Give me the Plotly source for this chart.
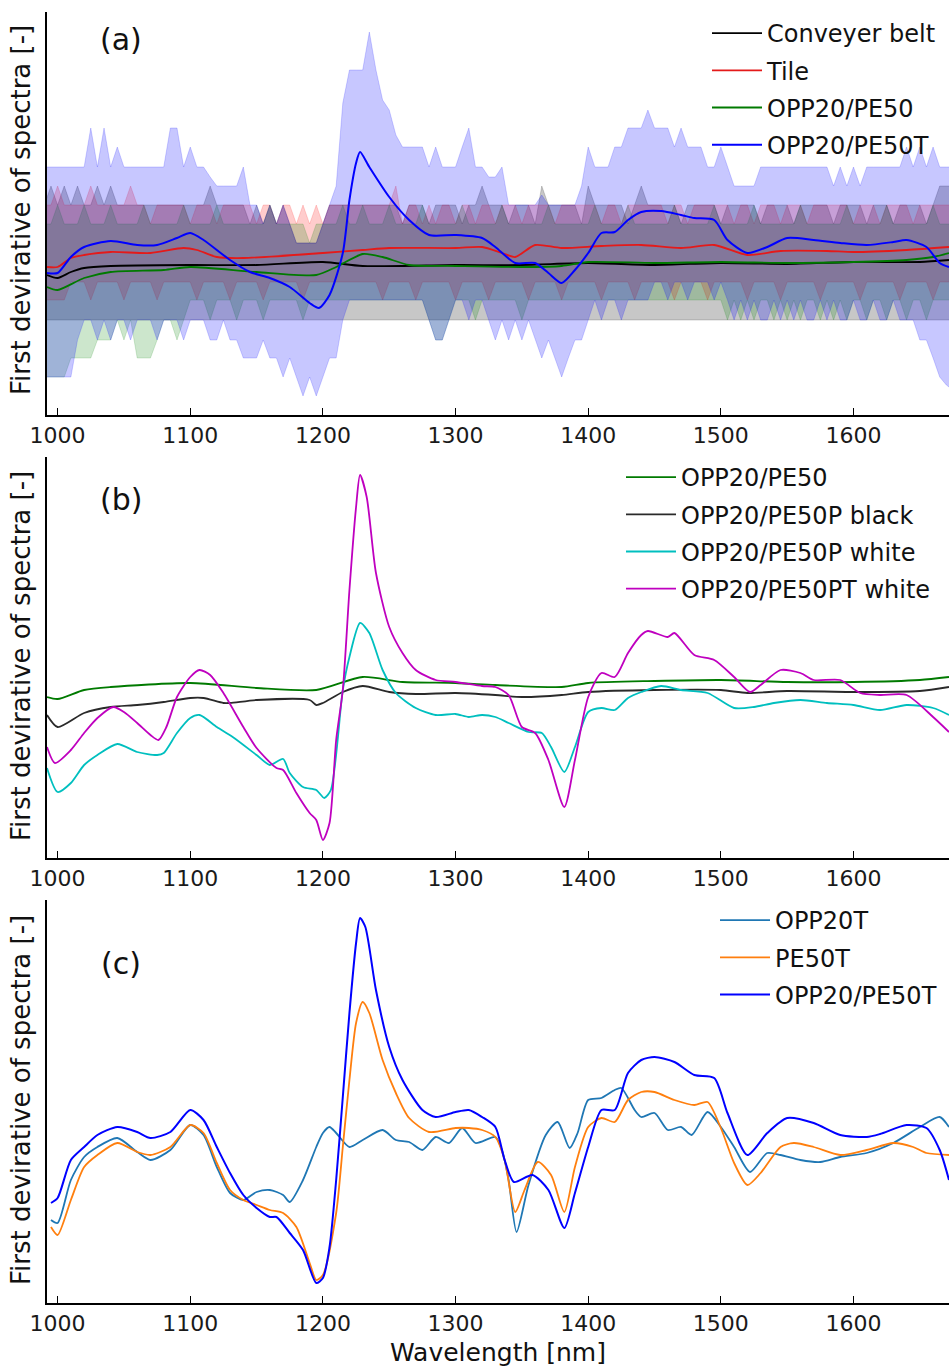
import plotly.graph_objects as go

FONT = "DejaVu Sans"

# ---------------- panel (a): min/max bands on a 5 nm grid (990..1680) ----------------
band_wl = list(range(990, 1681, 5))

belt_upper = [0.60, 0.79, 0.60, 0.79, 0.60, 0.79, 0.60, 0.60, 0.79, 0.60,
              0.79, 0.60, 0.60, 0.60, 0.60, 0.60, 0.60, 0.60, 0.60, 0.60,
              0.60, 0.60, 0.60, 0.60, 0.60, 0.79, 0.60, 0.60, 0.60, 0.60,
              0.60, 0.41, 0.60, 0.41, 0.60, 0.41, 0.60, 0.41, 0.22, 0.22,
              0.22, 0.22, 0.41, 0.60, 0.60, 0.60, 0.60, 0.60, 0.60, 0.60,
              0.60, 0.60, 0.60, 0.60, 0.41, 0.60, 0.60, 0.60, 0.41, 0.60,
              0.60, 0.60, 0.60, 0.41, 0.60, 0.60, 0.79, 0.60, 0.60, 0.60,
              0.41, 0.60, 0.60, 0.60, 0.41, 0.79, 0.60, 0.60, 0.60, 0.60,
              0.60, 0.41, 0.79, 0.60, 0.60, 0.60, 0.60, 0.60, 0.41, 0.60,
              0.79, 0.60, 0.60, 0.60, 0.60, 0.60, 0.41, 0.60, 0.60, 0.60,
              0.60, 0.60, 0.41, 0.60, 0.60, 0.60, 0.60, 0.60, 0.41, 0.60,
              0.60, 0.60, 0.60, 0.41, 0.60, 0.60, 0.60, 0.60, 0.60, 0.41,
              0.60, 0.60, 0.60, 0.60, 0.41, 0.60, 0.60, 0.60, 0.41, 0.60,
              0.60, 0.60, 0.60, 0.41, 0.60, 0.79, 0.79, 0.79, 0.79]
belt_lower = [-0.55, -0.55, -0.55, -0.55, -0.55, -0.55, -0.55, -0.55, -0.55, -0.55,
              -0.55, -0.55, -0.55, -0.55, -0.55, -0.55, -0.55, -0.55, -0.55, -0.55,
              -0.55, -0.55, -0.55, -0.55, -0.55, -0.55, -0.55, -0.55, -0.55, -0.55,
              -0.55, -0.55, -0.55, -0.55, -0.55, -0.55, -0.55, -0.55, -0.55, -0.55,
              -0.55, -0.55, -0.55, -0.55, -0.55, -0.55, -0.55, -0.55, -0.55, -0.55,
              -0.55, -0.55, -0.55, -0.55, -0.55, -0.55, -0.55, -0.55, -0.55, -0.55,
              -0.55, -0.55, -0.55, -0.55, -0.55, -0.55, -0.55, -0.55, -0.55, -0.55,
              -0.55, -0.55, -0.55, -0.55, -0.55, -0.55, -0.55, -0.55, -0.55, -0.55,
              -0.55, -0.55, -0.55, -0.55, -0.55, -0.55, -0.55, -0.55, -0.55, -0.55,
              -0.55, -0.55, -0.55, -0.55, -0.55, -0.55, -0.55, -0.55, -0.55, -0.55,
              -0.55, -0.55, -0.55, -0.55, -0.55, -0.55, -0.55, -0.55, -0.55, -0.55,
              -0.55, -0.55, -0.55, -0.55, -0.55, -0.55, -0.55, -0.55, -0.55, -0.55,
              -0.55, -0.55, -0.55, -0.55, -0.55, -0.55, -0.55, -0.55, -0.55, -0.55,
              -0.55, -0.55, -0.55, -0.55, -0.55, -0.55, -0.55, -0.55, -0.55]
tile_upper = [0.60, 0.60, 0.79, 0.60, 0.60, 0.60, 0.60, 0.79, 0.60, 0.60,
              0.60, 0.60, 0.60, 0.79, 0.60, 0.60, 0.41, 0.60, 0.60, 0.60,
              0.60, 0.60, 0.41, 0.60, 0.60, 0.60, 0.41, 0.60, 0.60, 0.60,
              0.60, 0.60, 0.41, 0.60, 0.60, 0.41, 0.60, 0.60, 0.41, 0.60,
              0.41, 0.60, 0.41, 0.60, 0.60, 0.60, 0.60, 0.60, 0.60, 0.60,
              0.60, 0.60, 0.60, 0.79, 0.41, 0.60, 0.60, 0.41, 0.60, 0.41,
              0.60, 0.60, 0.41, 0.60, 0.60, 0.41, 0.60, 0.60, 0.41, 0.60,
              0.60, 0.60, 0.41, 0.60, 0.60, 0.60, 0.60, 0.41, 0.60, 0.60,
              0.60, 0.60, 0.60, 0.60, 0.41, 0.60, 0.60, 0.41, 0.60, 0.60,
              0.60, 0.60, 0.60, 0.60, 0.41, 0.60, 0.60, 0.41, 0.60, 0.60,
              0.60, 0.60, 0.60, 0.60, 0.41, 0.60, 0.60, 0.41, 0.60, 0.60,
              0.60, 0.41, 0.60, 0.60, 0.60, 0.41, 0.60, 0.60, 0.60, 0.60,
              0.60, 0.60, 0.41, 0.60, 0.60, 0.60, 0.41, 0.60, 0.60, 0.60,
              0.60, 0.41, 0.60, 0.60, 0.60, 0.60, 0.60, 0.60, 0.60]
tile_lower = [-0.35, -0.35, -0.35, -0.35, -0.17, -0.17, -0.17, -0.35, -0.17, -0.17,
              -0.17, -0.17, -0.35, -0.17, -0.17, -0.17, -0.17, -0.35, -0.17, -0.17,
              -0.17, -0.17, -0.17, -0.35, -0.17, -0.17, -0.17, -0.17, -0.35, -0.17,
              -0.17, -0.17, -0.17, -0.35, -0.17, -0.17, -0.17, -0.17, -0.17, -0.35,
              -0.17, -0.17, -0.17, -0.17, -0.17, -0.17, -0.17, -0.17, -0.17, -0.17,
              -0.17, -0.35, -0.17, -0.17, -0.17, -0.17, -0.35, -0.17, -0.17, -0.17,
              -0.17, -0.17, -0.35, -0.17, -0.17, -0.17, -0.17, -0.35, -0.17, -0.17,
              -0.17, -0.17, -0.17, -0.35, -0.17, -0.17, -0.17, -0.17, -0.35, -0.17,
              -0.17, -0.17, -0.17, -0.17, -0.35, -0.17, -0.17, -0.17, -0.17, -0.35,
              -0.17, -0.17, -0.17, -0.17, -0.17, -0.35, -0.17, -0.17, -0.17, -0.17,
              -0.35, -0.17, -0.17, -0.17, -0.17, -0.17, -0.35, -0.17, -0.17, -0.17,
              -0.17, -0.35, -0.17, -0.17, -0.17, -0.17, -0.17, -0.35, -0.17, -0.17,
              -0.17, -0.17, -0.17, -0.35, -0.17, -0.17, -0.17, -0.17, -0.17, -0.35,
              -0.17, -0.17, -0.17, -0.17, -0.35, -0.17, -0.17, -0.17, -0.17]
opp_pe_upper = [0.41, 0.41, 0.60, 0.41, 0.41, 0.41, 0.60, 0.41, 0.41, 0.41,
                0.60, 0.41, 0.41, 0.41, 0.41, 0.60, 0.41, 0.41, 0.41, 0.41,
                0.41, 0.60, 0.41, 0.41, 0.41, 0.41, 0.60, 0.41, 0.41, 0.41,
                0.41, 0.41, 0.41, 0.41, 0.60, 0.41, 0.41, 0.41, 0.41, 0.41,
                0.22, 0.41, 0.41, 0.41, 0.41, 0.60, 0.41, 0.41, 0.60, 0.41,
                0.41, 0.41, 0.60, 0.41, 0.41, 0.41, 0.41, 0.60, 0.41, 0.41,
                0.41, 0.41, 0.41, 0.60, 0.41, 0.41, 0.41, 0.41, 0.41, 0.60,
                0.41, 0.41, 0.41, 0.41, 0.41, 0.41, 0.60, 0.41, 0.41, 0.41,
                0.41, 0.41, 0.41, 0.60, 0.41, 0.41, 0.41, 0.41, 0.60, 0.41,
                0.41, 0.41, 0.41, 0.41, 0.41, 0.60, 0.41, 0.41, 0.41, 0.41,
                0.41, 0.60, 0.41, 0.41, 0.41, 0.41, 0.41, 0.60, 0.41, 0.41,
                0.41, 0.41, 0.41, 0.41, 0.60, 0.41, 0.41, 0.41, 0.41, 0.41,
                0.41, 0.60, 0.41, 0.41, 0.41, 0.41, 0.41, 0.60, 0.41, 0.41,
                0.41, 0.41, 0.41, 0.41, 0.60, 0.41, 0.41, 0.41, 0.41]
opp_pe_lower = [-1.12, -1.12, -1.12, -1.12, -0.93, -0.93, -0.93, -0.93, -0.75, -0.75,
                -0.75, -0.55, -0.75, -0.55, -0.93, -0.93, -0.93, -0.75, -0.55, -0.55,
                -0.75, -0.55, -0.35, -0.35, -0.35, -0.55, -0.35, -0.35, -0.35, -0.55,
                -0.35, -0.35, -0.35, -0.55, -0.35, -0.35, -0.35, -0.35, -0.35, -0.55,
                -0.35, -0.35, -0.35, -0.35, -0.35, -0.35, -0.35, -0.35, -0.35, -0.35,
                -0.35, -0.35, -0.35, -0.35, -0.35, -0.35, -0.35, -0.35, -0.55, -0.75,
                -0.75, -0.55, -0.35, -0.35, -0.35, -0.55, -0.35, -0.35, -0.35, -0.35,
                -0.35, -0.35, -0.55, -0.35, -0.35, -0.35, -0.35, -0.35, -0.35, -0.35,
                -0.35, -0.35, -0.35, -0.35, -0.35, -0.35, -0.35, -0.35, -0.35, -0.35,
                -0.35, -0.35, -0.35, -0.35, -0.35, -0.35, -0.35, -0.35, -0.35, -0.35,
                -0.35, -0.35, -0.35, -0.55, -0.35, -0.55, -0.35, -0.55, -0.35, -0.35,
                -0.55, -0.35, -0.55, -0.35, -0.55, -0.35, -0.35, -0.55, -0.35, -0.55,
                -0.35, -0.55, -0.35, -0.35, -0.55, -0.35, -0.35, -0.55, -0.35, -0.35,
                -0.55, -0.35, -0.35, -0.55, -0.35, -0.35, -0.35, -0.35, -0.35]
opp_pet_upper = [0.98, 0.98, 0.98, 0.98, 0.98, 0.98, 0.98, 1.37, 0.98, 1.37,
                 0.98, 1.18, 0.98, 0.98, 0.98, 0.98, 0.98, 0.98, 0.98, 1.37,
                 1.37, 0.98, 1.18, 0.98, 0.98, 0.88, 0.79, 0.79, 0.79, 0.79,
                 0.98, 0.60, 0.60, 0.41, 0.60, 0.41, 0.60, 0.41, 0.22, 0.22,
                 0.22, 0.22, 0.41, 0.60, 0.79, 1.62, 1.95, 1.95, 1.95, 2.33,
                 1.95, 1.65, 1.55, 1.30, 1.18, 1.18, 1.18, 1.18, 0.98, 1.18,
                 0.98, 0.98, 0.98, 1.18, 1.37, 0.98, 0.98, 0.88, 0.88, 0.98,
                 0.60, 0.60, 0.60, 0.60, 0.60, 0.70, 0.60, 0.60, 0.60, 0.60,
                 0.60, 0.79, 1.18, 0.98, 0.98, 0.98, 1.18, 1.18, 1.37, 1.37,
                 1.37, 1.55, 1.37, 1.37, 1.37, 1.18, 1.37, 1.18, 1.18, 1.18,
                 0.98, 0.98, 1.18, 0.98, 0.79, 0.79, 0.79, 0.79, 0.98, 0.98,
                 0.98, 0.98, 0.98, 0.98, 0.98, 0.98, 0.98, 0.98, 0.98, 0.79,
                 0.98, 0.79, 0.98, 0.79, 0.98, 0.98, 0.98, 0.98, 0.98, 0.98,
                 1.18, 0.98, 1.18, 0.98, 1.18, 0.98, 0.98, 0.98, 0.98]
opp_pet_lower = [-1.12, -1.12, -1.12, -1.12, -1.12, -0.75, -0.55, -0.55, -0.75, -0.55,
                 -0.75, -0.55, -0.55, -0.75, -0.55, -0.55, -0.55, -0.75, -0.55, -0.55,
                 -0.55, -0.75, -0.55, -0.55, -0.55, -0.75, -0.75, -0.55, -0.75, -0.75,
                 -0.93, -0.93, -0.93, -0.75, -0.93, -0.93, -1.12, -0.93, -1.12, -1.31,
                 -1.12, -1.31, -1.12, -0.93, -0.93, -0.55, -0.35, -0.35, -0.35, -0.35,
                 -0.35, -0.35, -0.35, -0.35, -0.35, -0.35, -0.35, -0.35, -0.55, -0.75,
                 -0.75, -0.55, -0.35, -0.35, -0.55, -0.35, -0.35, -0.55, -0.75, -0.55,
                 -0.75, -0.55, -0.75, -0.55, -0.75, -0.93, -0.75, -0.93, -1.12, -0.93,
                 -0.75, -0.75, -0.55, -0.35, -0.55, -0.35, -0.35, -0.55, -0.35, -0.35,
                 -0.35, -0.35, -0.17, -0.17, -0.35, -0.17, -0.17, -0.35, -0.17, -0.17,
                 -0.17, -0.35, -0.17, -0.35, -0.55, -0.35, -0.55, -0.35, -0.55, -0.55,
                 -0.35, -0.55, -0.35, -0.55, -0.35, -0.55, -0.55, -0.35, -0.55, -0.35,
                 -0.55, -0.55, -0.35, -0.55, -0.55, -0.35, -0.55, -0.55, -0.35, -0.55,
                 -0.55, -0.55, -0.75, -0.75, -0.93, -1.12, -1.20, -1.25, -1.25]

for _arr in (belt_upper, belt_lower, tile_upper, tile_lower, opp_pe_upper, opp_pe_lower,
             opp_pet_upper, opp_pet_lower):
    assert len(_arr) == len(band_wl), len(_arr)

# ---------------- panel (a): mean spectra ----------------
a_belt_wl = [992, 1000, 1010, 1020, 1040, 1100, 1150, 1200, 1230, 1300, 1350, 1400, 1450, 1500, 1550, 1600, 1650, 1672]
a_belt = [-0.10, -0.13, -0.07, -0.03, -0.01, 0, 0, 0.03, -0.01, 0, 0, 0.02, 0, 0.02, 0.01, 0.03, 0.03, 0.05]

a_tile_wl = [992, 1000, 1010, 1020, 1040, 1070, 1095, 1105, 1120, 1140, 1200, 1230, 1250, 1300, 1320, 1335, 1345,
             1360, 1380, 1410, 1440, 1470, 1495, 1520, 1545, 1580, 1600, 1640, 1672]
a_tile = [-0.02, -0.02, 0.07, 0.10, 0.13, 0.12, 0.17, 0.15, 0.08, 0.07, 0.12, 0.15, 0.17, 0.17, 0.18, 0.12, 0.08,
          0.20, 0.17, 0.19, 0.20, 0.17, 0.20, 0.10, 0.14, 0.14, 0.13, 0.15, 0.18]

a_opp_pe_wl = [992, 1000, 1020, 1040, 1080, 1100, 1150, 1195, 1210, 1230, 1245, 1265, 1300, 1350, 1380, 1400, 1450,
               1500, 1550, 1600, 1640, 1660, 1672]
a_opp_pe = [-0.22, -0.25, -0.13, -0.07, -0.05, -0.02, -0.07, -0.10, -0.02, 0.11, 0.08, 0, -0.01, -0.02, -0.01, 0.03,
            0.02, 0.03, 0.02, 0.03, 0.05, 0.08, 0.12]

a_opp_pet_wl = [992, 1000, 1010, 1020, 1040, 1060, 1075, 1090, 1100, 1110, 1130, 1145, 1160, 1175, 1190, 1197, 1205,
                1215, 1220, 1225, 1228, 1235, 1250, 1265, 1280, 1300, 1320, 1330, 1345, 1360, 1370, 1380, 1390, 1400,
                1410, 1420, 1430, 1440, 1455, 1470, 1480, 1495, 1505, 1520, 1535, 1550, 1570, 1590, 1610, 1630, 1640,
                1655, 1665, 1672]
a_opp_pet = [-0.08, -0.08, 0.08, 0.18, 0.24, 0.20, 0.20, 0.27, 0.32, 0.25, 0.05, -0.07, -0.13, -0.22, -0.38, -0.43,
             -0.30, 0.12, 0.65, 1.02, 1.13, 0.98, 0.68, 0.45, 0.30, 0.30, 0.27, 0.18, 0.02, 0.02, -0.08, -0.18, -0.05,
             0.12, 0.32, 0.33, 0.45, 0.53, 0.54, 0.50, 0.47, 0.45, 0.25, 0.12, 0.18, 0.27, 0.25, 0.22, 0.20, 0.23,
             0.25, 0.18, 0.02, -0.02]

# ---------------- panel (b) ----------------
b_pe_wl = [992, 1000, 1020, 1040, 1100, 1150, 1195, 1230, 1260, 1300, 1330, 1380, 1400, 1450, 1500, 1550, 1600, 1650, 1672]
b_pe = [-0.07, -0.09, 0, 0.03, 0.07, 0.02, 0, 0.13, 0.08, 0.07, 0.05, 0.03, 0.07, 0.09, 0.10, 0.08, 0.08, 0.10, 0.13]

b_black_wl = [992, 1000, 1020, 1040, 1060, 1080, 1100, 1110, 1125, 1130, 1150, 1190, 1195, 1200, 1215, 1230, 1250,
              1270, 1300, 1330, 1350, 1380, 1400, 1450, 1500, 1520, 1550, 1600, 1650, 1672]
b_black = [-0.25, -0.37, -0.23, -0.17, -0.15, -0.12, -0.08, -0.08, -0.13, -0.13, -0.10, -0.10, -0.15, -0.13, -0.02,
           0.04, -0.02, -0.04, -0.03, -0.05, -0.07, -0.05, -0.02, 0, 0, -0.03, -0.01, -0.02, -0.01, 0.03]

b_white_wl = [992, 1000, 1010, 1020, 1030, 1045, 1060, 1075, 1080, 1090, 1100, 1107, 1120, 1132, 1150, 1160, 1170,
              1175, 1185, 1195, 1201, 1206, 1215, 1220, 1228, 1235, 1245, 1255, 1270, 1285, 1300, 1310, 1320, 1330,
              1340, 1355, 1365, 1372, 1382, 1390, 1400, 1410, 1420, 1430, 1440, 1455, 1470, 1490, 1510, 1525, 1540,
              1560, 1580, 1600, 1620, 1640, 1660, 1672]
b_white = [-0.78, -1.02, -0.93, -0.75, -0.65, -0.54, -0.62, -0.65, -0.63, -0.43, -0.28, -0.25, -0.37, -0.47, -0.65,
           -0.75, -0.69, -0.83, -0.97, -1.00, -1.08, -1.00, 0.00, 0.33, 0.67, 0.57, 0.20, -0.03, -0.18, -0.25, -0.24,
           -0.27, -0.25, -0.27, -0.33, -0.42, -0.43, -0.57, -0.82, -0.57, -0.22, -0.18, -0.20, -0.08, -0.02, 0.04,
           0.00, -0.03, -0.18, -0.17, -0.13, -0.10, -0.13, -0.15, -0.20, -0.15, -0.18, -0.25]

b_ptw_wl = [992, 998, 1010, 1020, 1030, 1042, 1050, 1060, 1070, 1076, 1082, 1090, 1100, 1107, 1115, 1125, 1140, 1150,
            1165, 1170, 1180, 1190, 1195, 1200, 1205, 1210, 1215, 1220, 1225, 1228, 1233, 1240, 1250, 1260, 1270,
            1285, 1300, 1320, 1330, 1340, 1350, 1360, 1370, 1382, 1390, 1400, 1410, 1420, 1430, 1440, 1445, 1460,
            1465, 1480, 1495, 1510, 1522, 1530, 1545, 1560, 1570, 1590, 1605, 1620, 1640, 1660, 1672]
b_ptw = [-0.57, -0.73, -0.60, -0.43, -0.28, -0.17, -0.22, -0.33, -0.45, -0.50, -0.37, -0.07, 0.13, 0.20, 0.15, -0.03,
         -0.37, -0.58, -0.78, -0.80, -1.03, -1.23, -1.30, -1.50, -1.33, -0.50, 0.00, 1.00, 1.83, 2.15, 1.93, 1.17,
         0.63, 0.37, 0.20, 0.10, 0.08, 0.04, 0.03, -0.05, -0.37, -0.43, -0.70, -1.17, -0.70, -0.07, 0.17, 0.13,
         0.37, 0.55, 0.59, 0.53, 0.57, 0.35, 0.30, 0.13, -0.02, 0.05, 0.20, 0.17, 0.10, 0.10, -0.03, -0.05, -0.05,
         -0.27, -0.42]

# ---------------- panel (c) ----------------
c_opp_wl = [995, 1000, 1010, 1020, 1030, 1045, 1060, 1070, 1085, 1100, 1110, 1120, 1130, 1140, 1150, 1160, 1170,
            1175, 1185, 1195, 1200, 1205, 1210, 1220, 1230, 1245, 1255, 1265, 1275, 1285, 1295, 1305, 1315, 1330,
            1335, 1340, 1346, 1355, 1368, 1377, 1386, 1392, 1400, 1410, 1420, 1425, 1435, 1440, 1450, 1460, 1470,
            1478, 1490, 1500, 1510, 1522, 1535, 1545, 1560, 1575, 1590, 1610, 1630, 1650, 1665, 1672]
c_opp = [-1.20, -1.23, -0.80, -0.57, -0.47, -0.38, -0.52, -0.60, -0.50, -0.25, -0.35, -0.67, -0.93, -1.00, -0.92,
         -0.90, -0.95, -1.02, -0.80, -0.47, -0.33, -0.27, -0.33, -0.47, -0.40, -0.30, -0.40, -0.42, -0.50, -0.37,
         -0.43, -0.28, -0.43, -0.37, -0.50, -0.80, -1.32, -0.85, -0.35, -0.22, -0.48, -0.33, 0.00, 0.02, 0.10, 0.12,
         -0.10, -0.17, -0.13, -0.30, -0.27, -0.35, -0.12, -0.27, -0.47, -0.72, -0.53, -0.55, -0.60, -0.62, -0.57,
         -0.53, -0.43, -0.27, -0.17, -0.27]

c_pe_wl = [995, 1000, 1010, 1020, 1030, 1045, 1060, 1070, 1085, 1100, 1110, 1120, 1130, 1140, 1150, 1160, 1170, 1180,
           1190, 1195, 1200, 1210, 1215, 1220, 1225, 1230, 1235, 1245, 1255, 1265, 1280, 1300, 1310, 1320, 1330, 1337,
           1345, 1352, 1362, 1372, 1382, 1390, 1400, 1410, 1420, 1430, 1440, 1450, 1465, 1480, 1490, 1500, 1510, 1520,
           1530, 1545, 1555, 1570, 1590, 1610, 1630, 1645, 1655, 1672]
c_pe = [-1.27, -1.35, -1.00, -0.67, -0.55, -0.43, -0.52, -0.55, -0.47, -0.25, -0.33, -0.63, -0.90, -1.00, -1.05,
        -1.10, -1.13, -1.27, -1.63, -1.80, -1.75, -1.13, -0.47, 0.20, 0.77, 0.98, 0.87, 0.40, 0.07, -0.18, -0.32,
        -0.28, -0.28, -0.30, -0.37, -0.60, -1.12, -0.90, -0.62, -0.75, -1.12, -0.67, -0.27, -0.18, -0.22, 0.00, 0.08,
        0.08, 0.00, -0.05, -0.02, -0.28, -0.63, -0.85, -0.73, -0.47, -0.43, -0.47, -0.55, -0.50, -0.43, -0.47, -0.53,
        -0.55]

c_opp_pe_wl = [995, 1000, 1010, 1020, 1030, 1045, 1060, 1070, 1085, 1100, 1110, 1120, 1130, 1140, 1150, 1160, 1165,
               1175, 1185, 1195, 1200, 1205, 1210, 1215, 1220, 1225, 1228, 1232, 1240, 1250, 1260, 1275, 1285, 1300,
               1310, 1320, 1330, 1337, 1344, 1358, 1370, 1382, 1390, 1400, 1410, 1420, 1430, 1440, 1450, 1465, 1480,
               1495, 1505, 1520, 1535, 1550, 1570, 1590, 1610, 1620, 1640, 1655, 1665, 1672]
c_opp_pe = [-1.03, -0.98, -0.60, -0.47, -0.35, -0.27, -0.32, -0.38, -0.32, -0.10, -0.20, -0.47, -0.73, -0.95, -1.08,
            -1.17, -1.17, -1.33, -1.50, -1.83, -1.78, -1.47, -0.80, 0.03, 0.87, 1.57, 1.82, 1.73, 1.10, 0.53, 0.20,
            -0.10, -0.17, -0.12, -0.10, -0.17, -0.27, -0.60, -0.82, -0.75, -0.90, -1.28, -0.93, -0.47, -0.10, -0.10,
            0.27, 0.40, 0.43, 0.38, 0.25, 0.22, -0.13, -0.55, -0.33, -0.18, -0.23, -0.35, -0.37, -0.34, -0.25, -0.28,
            -0.50, -0.80]

x_ticks = [1000, 1100, 1200, 1300, 1400, 1500, 1600]
ylab = "First devirative of spectra [-]"

fig = go.Figure()


def add_band(lo, hi, color):
    fig.add_trace(go.Scatter(x=band_wl, y=lo, mode="lines", line=dict(width=0.8, color=color),
                             showlegend=False, hoverinfo="skip", xaxis="x", yaxis="y"))
    fig.add_trace(go.Scatter(x=band_wl, y=hi, mode="lines", line=dict(width=0.8, color=color),
                             fill="tonexty", fillcolor=color, showlegend=False, hoverinfo="skip",
                             xaxis="x", yaxis="y"))


add_band(belt_lower, belt_upper, "rgba(0,0,0,0.22)")
add_band(tile_lower, tile_upper, "rgba(255,0,0,0.2)")
add_band(opp_pe_lower, opp_pe_upper, "rgba(0,128,0,0.2)")
add_band(opp_pet_lower, opp_pet_upper, "rgba(0,0,255,0.22)")


def add_line(x, y, name, color, ax, legend, width=1.8):
    fig.add_trace(go.Scatter(x=x, y=y, mode="lines", name=name,
                             line=dict(color=color, width=width, shape="spline", smoothing=0.7),
                             xaxis="x" + ax, yaxis="y" + ax, legend=legend, legendgroup=legend + name))


add_line(a_belt_wl, a_belt, "Conveyer belt", "#000000", "", "legend")
add_line(a_tile_wl, a_tile, "Tile", "#e41a1a", "", "legend")
add_line(a_opp_pe_wl, a_opp_pe, "OPP20/PE50", "#007a00", "", "legend")
add_line(a_opp_pet_wl, a_opp_pet, "OPP20/PE50T", "#0000ff", "", "legend", 2.0)

add_line(b_pe_wl, b_pe, "OPP20/PE50", "#007a00", "2", "legend2")
add_line(b_black_wl, b_black, "OPP20/PE50P black", "#2a2a2a", "2", "legend2")
add_line(b_white_wl, b_white, "OPP20/PE50P white", "#00bfbf", "2", "legend2")
add_line(b_ptw_wl, b_ptw, "OPP20/PE50PT white", "#bf00bf", "2", "legend2")

add_line(c_opp_wl, c_opp, "OPP20T", "#1f77b4", "3", "legend3")
add_line(c_pe_wl, c_pe, "PE50T", "#ff7f0e", "3", "legend3")
add_line(c_opp_pe_wl, c_opp_pe, "OPP20/PE50T", "#0000ff", "3", "legend3", 2.0)

H_TOP, H_BOT = 12, 1303
TOT = H_BOT - H_TOP


def py(px):
    return (H_BOT - px) / TOT


def pxx(px):
    return (px - 47) / 902


xcommon = dict(range=[992, 1672], showline=True, linecolor="black", linewidth=1.6, mirror=False,
               ticks="inside", ticklen=7, tickwidth=1.3, tickcolor="black", tickvals=x_ticks,
               tickfont=dict(size=22, family=FONT, color="#1a1a1a"), showgrid=False, zeroline=False)
ycommon = dict(showline=True, linecolor="black", linewidth=1.6, showticklabels=False, ticks="",
               showgrid=False, zeroline=False)

legcommon = dict(xanchor="left", yanchor="top", bgcolor="rgba(0,0,0,0)", borderwidth=0, itemwidth=50,
                 font=dict(size=24, family=FONT, color="#111111"), tracegroupgap=3)

fig.update_layout(
    width=949, height=1366,
    margin=dict(l=47, r=0, t=H_TOP, b=1366 - H_BOT),
    paper_bgcolor="white", plot_bgcolor="white",
    font=dict(family=FONT),
    xaxis=dict(domain=[0, 1], anchor="y", **xcommon),
    yaxis=dict(domain=[py(415), 1.0], anchor="x", range=[-1.50, 2.53], **ycommon),
    xaxis2=dict(domain=[0, 1], anchor="y2", **xcommon),
    yaxis2=dict(domain=[py(858), py(457)], anchor="x2", range=[-1.68, 2.33], **ycommon),
    xaxis3=dict(domain=[0, 1], anchor="y3", **xcommon),
    yaxis3=dict(domain=[0, py(900)], anchor="x3", range=[-2.03, 2.00], **ycommon),
    legend=dict(x=pxx(707), y=py(11), **legcommon),
    legend2=dict(x=pxx(621), y=py(455), **legcommon),
    legend3=dict(x=pxx(715), y=py(898), **legcommon),
    showlegend=True,
)

annots = []
for lab, ypx in [("(a)", 40), ("(b)", 500), ("(c)", 963)]:
    annots.append(dict(text=lab, x=pxx(121), y=py(ypx), xref="paper", yref="paper", showarrow=False,
                       xanchor="center", yanchor="middle", font=dict(size=30, family=FONT, color="#111111")))
for ypx in [210, 656, 1100]:
    annots.append(dict(text=ylab, x=pxx(21), y=py(ypx), xref="paper", yref="paper", showarrow=False,
                       textangle=-90, xanchor="center", yanchor="middle",
                       font=dict(size=26, family=FONT, color="#111111")))
annots.append(dict(text="Wavelength [nm]", x=0.5, y=py(1352), xref="paper", yref="paper", showarrow=False,
                   xanchor="center", yanchor="middle", font=dict(size=25, family=FONT, color="#111111")))
fig.update_layout(annotations=annots)

fig.write_html("out.html", config={"displayModeBar": False},
               post_script="document.body.style.margin='0px';")
